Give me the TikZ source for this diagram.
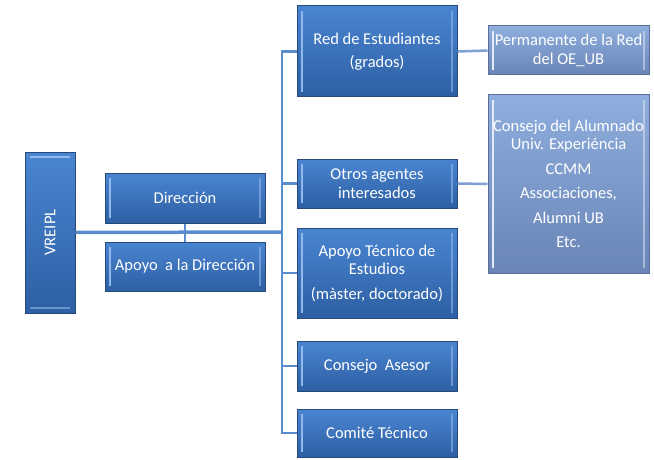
\documentclass[tikz,border=0pt]{standalone}
\usepackage{fontspec}
\usepackage{graphicx}
\setmainfont{Carlito}
\definecolor{dtop}{HTML}{4A85D1}
\definecolor{dbot}{HTML}{2D5FA3}
\definecolor{dline}{HTML}{26497C}
\definecolor{ltop}{HTML}{8EAEDD}
\definecolor{lbot}{HTML}{6985B7}
\definecolor{lline}{HTML}{5B6F93}
\definecolor{hilite}{HTML}{8FB8EC}
\definecolor{connc}{HTML}{5B8CCD}
\definecolor{connl}{HTML}{7FA0D2}
\tikzset{
  x=1pt,y=-1pt,
  txt/.style={text=white,font=\fontsize{16.5}{18.5}\selectfont,align=center,inner sep=0pt},
  dbox/.style={txt,rectangle,top color=dtop,bottom color=dbot,draw=dline,line width=1pt,
    path picture={
      \draw[hilite,line width=2pt] ([xshift=5pt,yshift=-5pt]path picture bounding box.north west) -- ([xshift=5pt,yshift=5pt]path picture bounding box.south west);
      \draw[hilite,line width=2pt,opacity=0.6] ([xshift=-5pt,yshift=-5pt]path picture bounding box.north east) -- ([xshift=-5pt,yshift=5pt]path picture bounding box.south east);
    }},
  vbox/.style={txt,rectangle,top color=dtop,bottom color=dbot,draw=dline,line width=1pt,
    path picture={
      \draw[hilite,line width=2pt] ([xshift=5pt,yshift=-5pt]path picture bounding box.north west) -- ([xshift=-5pt,yshift=-5pt]path picture bounding box.north east);
      \draw[hilite,line width=2pt,opacity=0.6] ([xshift=5pt,yshift=5pt]path picture bounding box.south west) -- ([xshift=-5pt,yshift=5pt]path picture bounding box.south east);
    }},
  lbox/.style={txt,rectangle,top color=ltop,bottom color=lbot,draw=lline,line width=1pt,
    path picture={
      \draw[white!75!ltop,line width=2pt] ([xshift=5pt,yshift=-5pt]path picture bounding box.north west) -- ([xshift=5pt,yshift=5pt]path picture bounding box.south west);
      \draw[white!75!ltop,line width=2pt,opacity=0.5] ([xshift=-5pt,yshift=-5pt]path picture bounding box.north east) -- ([xshift=-5pt,yshift=5pt]path picture bounding box.south east);
    }},
  conn/.style={draw=connc,line width=2.5pt},
  connr/.style={draw=connl,line width=2.5pt}
}
\begin{document}
\begin{tikzpicture}
\useasboundingbox (0,0) rectangle (654,460);
\coordinate (tv) at (282,232);
\node[vbox,minimum width=50pt,minimum height=161pt] (vreipl) at (50,232.5) {\rotatebox{90}{VREIPL}};
\node[dbox,minimum width=160pt,minimum height=50pt] (dir) at (185,198) {Dirección};
\node[dbox,minimum width=160pt,minimum height=49pt] (apoyo) at (185,266.5) {Apoyo\ \ a la Dirección};
\node[dbox,minimum width=160pt,minimum height=91pt] (red) at (377,51.5) {Red de Estudiantes\\[4pt](grados)};
\node[lbox,minimum width=161pt,minimum height=49pt] (perm) at (568.5,50.5) {Permanente de la Red\\del OE\_UB};
\node[dbox,minimum width=160pt,minimum height=49pt] (otros) at (377,183.5) {Otros agentes\\interesados};
\node[lbox,minimum width=161pt,minimum height=178pt] (cons) at (568.5,184) {Consejo del Alumnado\\Univ. Experiéncia\\[6pt]CCMM\\[6pt]Associaciones,\\[6pt]Alumni UB\\[6pt]Etc.};
\node[dbox,minimum width=160pt,minimum height=90pt] (apoyot) at (377,273) {Apoyo Técnico de\\Estudios\\[6pt](màster, doctorado)};
\node[dbox,minimum width=160pt,minimum height=50pt] (asesor) at (377,366) {Consejo\ \ Asesor};
\node[dbox,minimum width=160pt,minimum height=48pt] (comite) at (377,433) {Comité Técnico};
% connectors
\draw[conn] (red.west) -- (red.west -| tv) -- (comite.west -| tv) -- (comite.west);
\draw[conn] (otros.west) -- (otros.west -| tv);
\draw[conn] (apoyot.west) -- (apoyot.west -| tv);
\draw[conn] (asesor.west) -- (asesor.west -| tv);
\draw[conn,line width=3.5pt] (vreipl.east) -- (tv);
\draw[conn] (dir.south) -- (apoyo.north);
\draw[connr] (red.east) -- (perm.west);
\draw[connr] (otros.east) -- (cons.west);
\end{tikzpicture}
\end{document}
